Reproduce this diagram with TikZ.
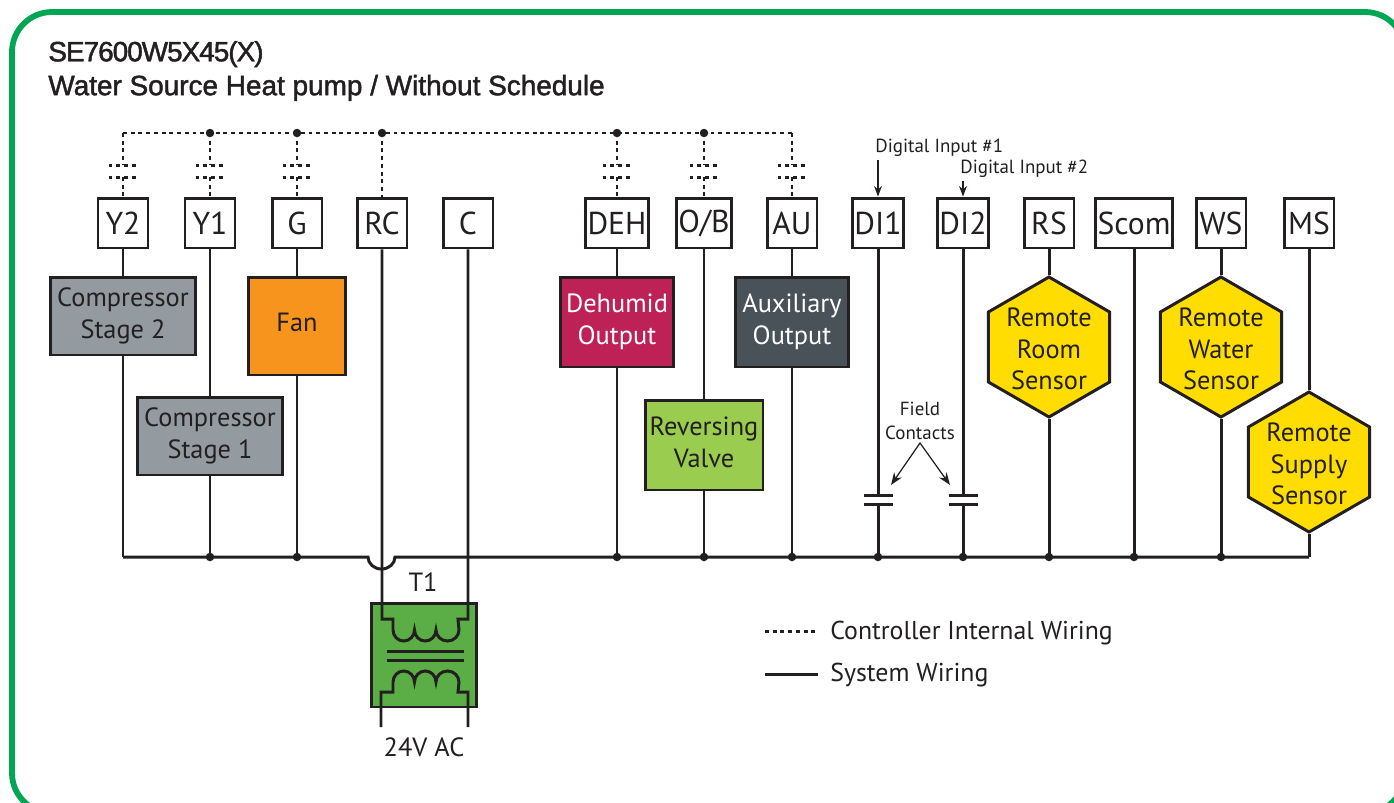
\documentclass[tikz,border=0pt]{standalone}
\usepackage{fontspec}
\setmainfont{PT Sans}
\newfontfamily\titlefont[FakeBold=1.6]{Liberation Sans}
\newfontfamily\titlefonttight[FakeBold=1.6,LetterSpace=-3.6]{Liberation Sans}
\usetikzlibrary{shapes}
\usetikzlibrary{arrows.meta}
\definecolor{inkdark}{HTML}{231F20}
\definecolor{framegreen}{HTML}{00A651}
\definecolor{compgray}{HTML}{939BA1}
\definecolor{fanorange}{HTML}{F7941E}
\definecolor{dehumred}{HTML}{BE2155}
\definecolor{auxslate}{HTML}{4A5259}
\definecolor{revgreen}{HTML}{99CC4F}
\definecolor{sensoryellow}{HTML}{FFDD00}
\definecolor{xfmrgreen}{HTML}{5BAD45}
\tikzset{
  wire/.style={line width=1.7pt, color=inkdark},
  intwire/.style={line width=1.7pt, color=inkdark, dash pattern=on 2.2pt off 2.2pt},
  plate/.style={line width=1.7pt, color=inkdark},
  terminal/.style={draw=inkdark, line width=1.7pt, fill=white, text=inkdark, minimum width=1cm, minimum height=1cm, inner sep=1pt, font=\fontsize{18}{18}\selectfont},
  device/.style={draw=inkdark, line width=1.7pt, align=center, text=inkdark, inner sep=0pt, font=\fontsize{15}{18}\selectfont},
  sensor/.style={regular polygon, regular polygon sides=6, shape border rotate=90, draw=inkdark, line width=1.7pt, fill=sensoryellow, minimum size=2.8cm, inner sep=0pt},
  sensortext/.style={align=center, text=inkdark, inner sep=0pt, yshift=-0.04cm, font=\fontsize{15}{18}\selectfont},
  junction/.style={circle, fill=inkdark, minimum size=0.17cm, inner sep=0pt},
  smalltext/.style={text=inkdark, align=center, inner sep=0pt, font=\fontsize{10.8}{14}\selectfont},
  bigtext/.style={text=inkdark, inner sep=0pt, font=\fontsize{14.7}{18}\selectfont}
}
\begin{document}
\begin{tikzpicture}[x=0.02cm, y=-0.02cm]
  \useasboundingbox (0,0) rectangle (1394,802);
  \draw[color=framegreen, line width=3.3pt, rounded corners=0.8cm] (12,813) rectangle (1405,12);

  \node[anchor=west, inner sep=0pt, text=inkdark, font=\titlefont\fontsize{15.9}{19.3}\selectfont, align=left] (title) at (48,71)
    {{\titlefonttight SE7600W5X45(X)}\\Water Source Heat pump / Without Schedule};

  % terminals
  \foreach \n/\x/\t in {Yb/123/Y2, Ya/210/Y1, G/297/G, RC/382/RC, C/468/C, DEH/617/DEH, OB/704/{O/B}, AU/792/AU, DIa/878/DI1, DIb/963/DI2, RS/1049/RS, Scom/1134/Scom, WS/1221/WS, MS/1309/MS}
    \node[terminal] (t\n) at (\x,223) {\t};

  % devices
  \node[device, fill=compgray, minimum width=2.9cm, minimum height=1.56cm] (compb) at (123,316) {Compressor\\Stage 2};
  \node[device, fill=compgray, minimum width=2.9cm, minimum height=1.56cm] (compa) at (210,436) {Compressor\\Stage 1};
  \node[device, fill=fanorange, text depth=4.6pt, minimum width=1.94cm, minimum height=1.96cm] (fan) at (297,326) {Fan};
  \node[device, fill=dehumred, text=white, minimum width=2.26cm, minimum height=1.8cm] (dehum) at (617,322) {Dehumid\\Output};
  \node[device, fill=revgreen, text depth=3.5pt, minimum width=2.36cm, minimum height=1.8cm] (revvalve) at (704,445) {Reversing\\Valve};
  \node[device, fill=auxslate, text=white, minimum width=2.26cm, minimum height=1.8cm] (auxout) at (792,322) {Auxiliary\\Output};
  \node[sensor] (sensroom) at (1049,347) {};
  \node[sensortext] (txtroom) at (sensroom) {Remote\\Room\\Sensor};
  \node[sensor] (senswater) at (1221,347) {};
  \node[sensortext] (txtwater) at (senswater) {Remote\\Water\\Sensor};
  \node[sensor] (senssupply) at (1309,462) {};
  \node[sensortext] (txtsupply) at (senssupply) {Remote\\Supply\\Sensor};

  % transformer box
  \node[draw=inkdark, line width=1.7pt, fill=xfmrgreen, minimum width=2.12cm, minimum height=2.08cm, inner sep=0pt] (xfmr) at (424,655) {};
  \node[text=inkdark, inner sep=0pt, font=\fontsize{15}{18}\selectfont] (tlabel) at (423,582) {T1};
  \node[text=inkdark, inner sep=0pt, font=\fontsize{15}{18}\selectfont] (aclabel) at (424,747) {24V AC};

  % bus lines
  \coordinate (busA) at (123,557);
  \coordinate (busZ) at (1309,557);
  \coordinate (intA) at (123,133);
  \coordinate (intZ) at (792,133);

  \draw[wire] (busA) -- (368,557) arc[start angle=180, end angle=360, x radius=0.27cm, y radius=0.24cm] -- (busZ);
  \draw[intwire] (intA) -- (intZ);

  % system wiring
  \draw[wire] (tYb) -- (compb);
  \draw[wire] (compb) -- (busA);
  \draw[wire] (tYa) -- (compa);
  \draw[wire] (compa) -- (compa |- busA);
  \draw[wire] (tG) -- (fan);
  \draw[wire] (fan) -- (fan |- busA);
  \draw[wire] (tDEH) -- (dehum);
  \draw[wire] (dehum) -- (dehum |- busA);
  \draw[wire] (tOB) -- (revvalve);
  \draw[wire] (revvalve) -- (revvalve |- busA);
  \draw[wire] (tAU) -- (auxout);
  \draw[wire] (auxout) -- (auxout |- busA);
  \draw[wire] (tRS) -- (sensroom);
  \draw[wire] (sensroom) -- (sensroom |- busA);
  \draw[wire] (tScom) -- (tScom |- busA);
  \draw[wire] (tWS) -- (senswater);
  \draw[wire] (senswater) -- (senswater |- busA);
  \draw[wire] (tMS) -- (senssupply);
  \draw[wire] (senssupply) -- (busZ);

  % field contacts
  \coordinate (contAu) at (878,495);
  \coordinate (contAl) at (878,504);
  \coordinate (contBu) at (963,495);
  \coordinate (contBl) at (963,504);
  \draw[wire] (tDIa) -- (contAu);
  \draw[wire] (contAl) -- (contAl |- busA);
  \draw[wire] (tDIb) -- (contBu);
  \draw[wire] (contBl) -- (contBl |- busA);
  \foreach \c in {contAu,contAl,contBu,contBl}
    \draw[plate] ([xshift=-0.29cm]\c) -- ([xshift=0.29cm]\c);

  % internal wiring with open contacts
  \foreach \n in {Yb,Ya,G,DEH,OB,AU}
    {\draw[intwire] (t\n |- intA) -- ++(0,32);
     \draw[intwire] ([xshift=-0.29cm]t\n |- intA) ++(0,32) -- ++(29,0);
     \draw[intwire] ([xshift=-0.29cm]t\n |- intA) ++(0,44) -- ++(29,0);
     \draw[intwire] (t\n |- intA) ++(0,44) -- (t\n.north);
    }
  \draw[intwire] (tRC |- intA) -- (tRC.north);

  % junctions
  \foreach \n in {Ya,G,DEH,OB,AU,DIa,DIb,RS,Scom,WS}
    \node[junction] (jb\n) at (t\n |- busA) {};
  \foreach \n in {Ya,G,RC,DEH,OB}
    \node[junction] (ji\n) at (t\n |- intA) {};

  % transformer wiring
  \draw[wire] (tRC) -- (382,619) -- (393,619) -- (393,630)
    arc[start angle=180, end angle=360, x radius=0.215cm, y radius=0.22cm]
    arc[start angle=180, end angle=360, x radius=0.215cm, y radius=0.22cm]
    arc[start angle=180, end angle=360, x radius=0.23cm, y radius=0.22cm]
    -- (458,619) -- (468,619) -- (tC);
  \draw[wire] (381,727) -- (381,692) -- (393,692) -- (393,682)
    arc[start angle=180, end angle=0, x radius=0.215cm, y radius=0.22cm]
    arc[start angle=180, end angle=0, x radius=0.215cm, y radius=0.22cm]
    arc[start angle=180, end angle=0, x radius=0.23cm, y radius=0.22cm]
    -- (458,692) -- (468,692) -- (468,727);
  \draw[plate] (387,651) -- (464,651);
  \draw[plate] (387,660) -- (464,660);

  % labels
  \node[smalltext, anchor=west] (lblDIa) at (875,148) {Digital Input \#1};
  \node[smalltext, anchor=west] (lblDIb) at (960,169) {Digital Input \#2};
  \draw[-{Stealth[length=6pt]}, line width=0.7pt, color=inkdark] (tDIa |- 0,160) -- (tDIa.north);
  \draw[-{Stealth[length=6pt]}, line width=0.7pt, color=inkdark] (tDIb |- lblDIb.south) ++(0,3) -- (tDIb.north);
  \node[smalltext] (lblfield) at (920,421) {Field\\Contacts};
  \draw[{Stealth[length=7pt]}-{Stealth[length=7pt]}, line width=0.7pt, color=inkdark] (891,485) -- ([yshift=-0.05cm]lblfield.south) -- (950,485);

  % legend
  \coordinate (legA) at (765,631);
  \coordinate (legB) at (765,674);
  \node[bigtext, anchor=west] (legint) at (830,633) {Controller Internal Wiring};
  \node[bigtext, anchor=west] (legsys) at (830,675) {System Wiring};
  \draw[intwire] (legA) -- (818,631);
  \draw[wire] (legB) -- (818,674);
\end{tikzpicture}
\end{document}
